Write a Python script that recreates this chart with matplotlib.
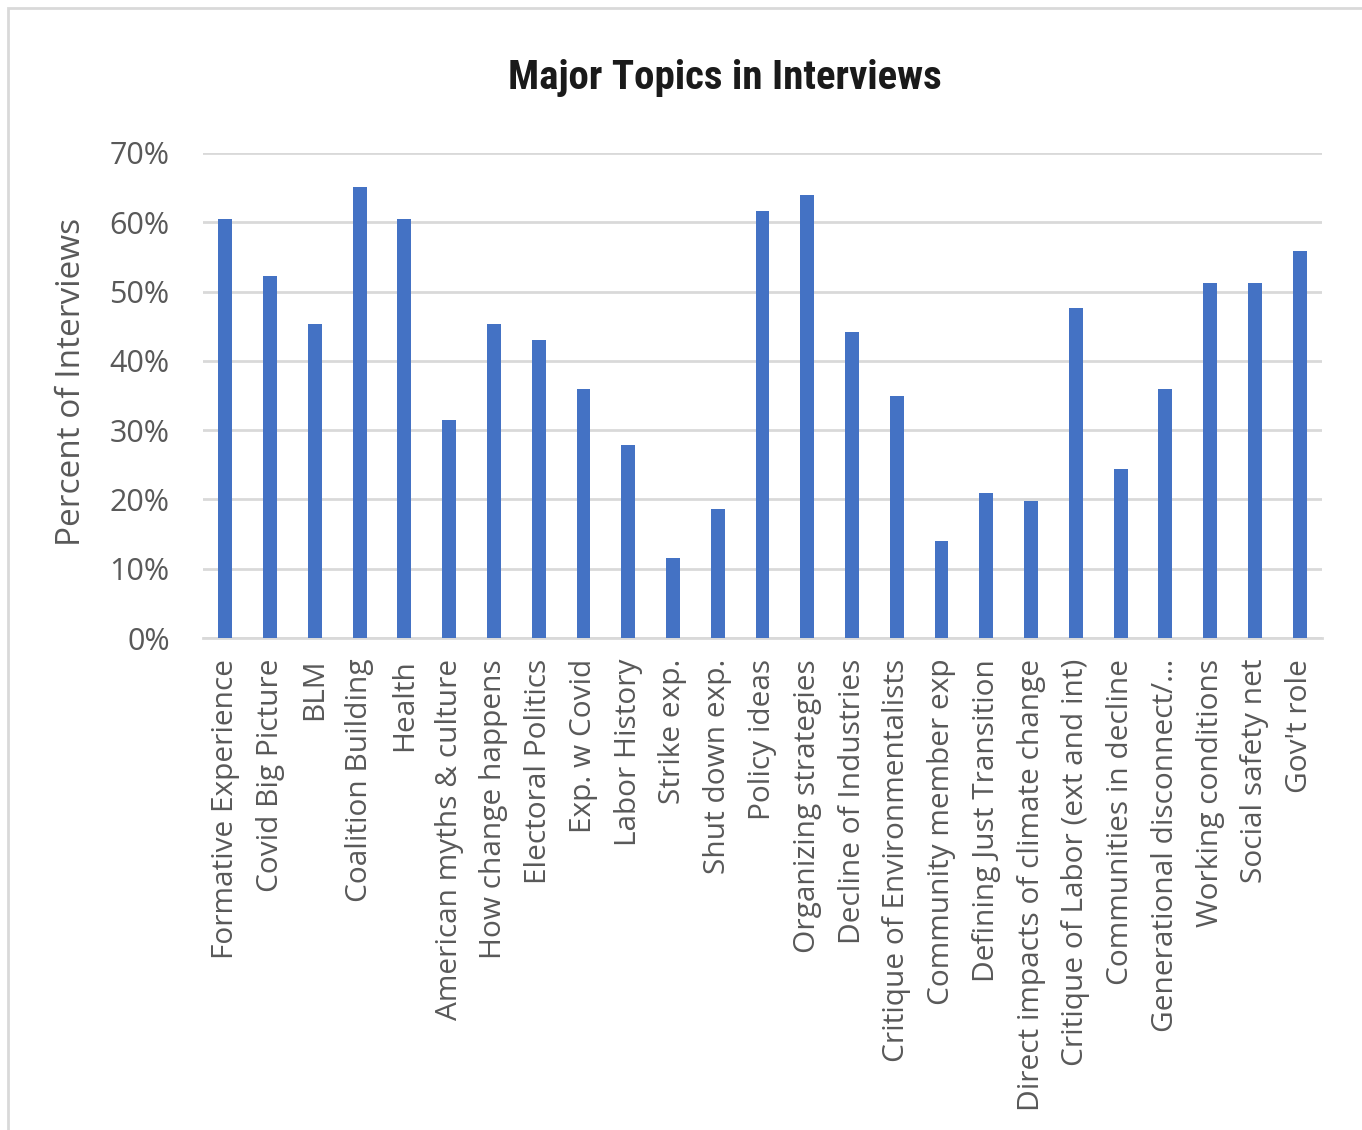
import matplotlib.pyplot as plt
from matplotlib.patches import Rectangle
from matplotlib.ticker import PercentFormatter

topics = ["Formative Experience", "Covid Big Picture", "BLM", "Coalition Building",
          "Health", "American myths & culture", "How change happens",
          "Electoral Politics", "Exp. w Covid", "Labor History", "Strike exp.",
          "Shut down exp.", "Policy ideas", "Organizing strategies",
          "Decline of Industries", "Critique of Environmentalists",
          "Community member exp", "Defining Just Transition",
          "Direct impacts of climate change", "Critique of Labor (ext and int)",
          "Communities in decline", "Generational disconnect/\u2026",
          "Working conditions", "Social safety net", "Gov't role"]
pct = [60.5, 52.3, 45.3, 65.1, 60.5, 31.4, 45.3, 43.0, 36.0, 27.9, 11.6,
       18.6, 61.6, 64.0, 44.2, 34.9, 14.0, 20.9, 19.8, 47.7, 24.4, 36.0,
       51.2, 51.2, 55.8]

plt.rcParams['font.family'] = ['Open Sans', 'DejaVu Sans']
grey = '#595959'

fig = plt.figure(figsize=(13.62, 11.30), dpi=100)
fig.patches.append(Rectangle((8/1362, -0.01), 1.02, 1 - 8/1130 + 0.01,
                             transform=fig.transFigure, fill=False,
                             edgecolor='#d9d9d9', linewidth=2))

ax = fig.add_axes([203/1362, 1 - 638/1130, 1119/1362, 485/1130])
x = range(len(topics))
ax.bar(x, [p / 100 for p in pct], width=0.31, color='#4472c4', zorder=3)

ax.set_xlim(-0.5, len(topics) - 0.5)
ax.set_ylim(0, 0.7)
ax.set_yticks([i / 10 for i in range(8)])
ax.yaxis.set_major_formatter(PercentFormatter(1.0, decimals=0))
ax.grid(axis='y', color='#d9d9d9', linewidth=2, zorder=0)
for s in ['top', 'right', 'left']:
    ax.spines[s].set_visible(False)
ax.spines['bottom'].set_color('#d9d9d9')
ax.spines['bottom'].set_linewidth(2)
ax.tick_params(length=0, colors=grey)
ax.tick_params(axis='y', pad=24, labelsize=22)
ax.tick_params(axis='x', pad=15, labelsize=21.5)
ax.set_xticks(list(x))
ax.set_xticklabels(topics, rotation=90)

ax.set_ylabel('Percent of Interviews', fontsize=24, color=grey)
ax.yaxis.set_label_coords((88 - 203) / 1119, 0.527)

fig.text(0.532, 1 - 78/1130, 'Major Topics in Interviews', ha='center', va='center',
         fontsize=29.5, fontweight='bold', color='#1a1a1a',
         family=['Roboto Condensed', 'Liberation Sans Narrow', 'Roboto', 'DejaVu Sans'])

fig.savefig('out.png', dpi=100)
